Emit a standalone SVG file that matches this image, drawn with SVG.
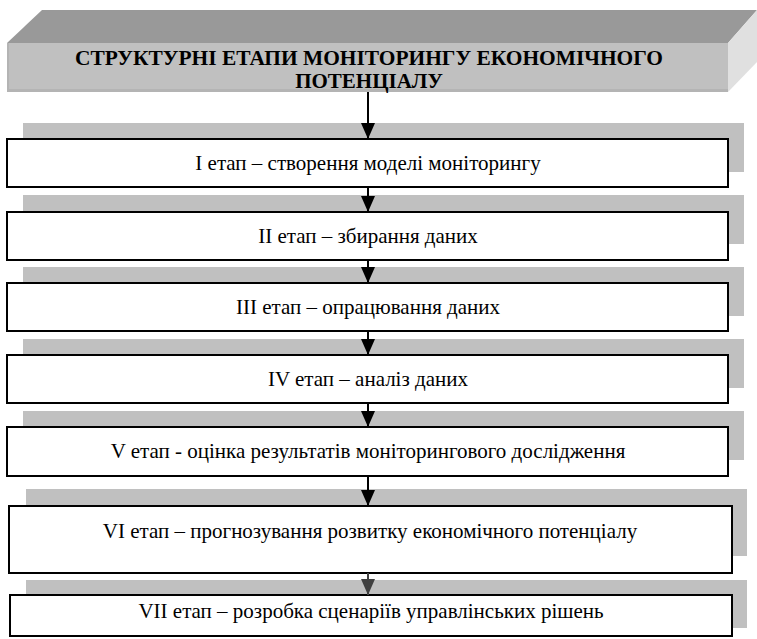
<svg xmlns="http://www.w3.org/2000/svg" width="757" height="639" viewBox="0 0 757 639" font-family="Liberation Serif, serif">
<defs>
<style>
.sh{fill:#c0c0c0;}
.bx{fill:#ffffff;stroke:#000000;stroke-width:2;}
.t{font-size:21px;fill:#000;text-anchor:middle;}
.tt{font-size:21px;font-weight:bold;fill:#000;text-anchor:middle;}
.ln{stroke:#000;stroke-width:2;fill:none;}
</style>
<marker id="ah" markerWidth="16" markerHeight="16" refX="16" refY="8" orient="auto" markerUnits="userSpaceOnUse" viewBox="0 0 16 16">
<path d="M0,1 L16,8 L0,15 Z" fill="#000"/>
</marker>
<marker id="ah2" markerWidth="16" markerHeight="16" refX="16" refY="8" orient="auto" markerUnits="userSpaceOnUse" viewBox="0 0 16 16">
<path d="M0,1 L16,8 L0,15 Z" fill="#404040"/>
</marker>
</defs>
<rect width="757" height="639" fill="#ffffff"/>
<g id="header">
<polygon points="7,43 42,10 757,10 728,43" fill="#999999"/>
<polygon points="728,43 757,10 757,62 728,92" fill="#e0e0e0"/>
<rect x="7" y="43" width="721" height="49" fill="#c0c0c0"/>
<rect x="7" y="89" width="721" height="3" fill="#b4b4b4"/>
<rect x="7" y="43" width="2" height="49" fill="#b4b4b4"/>
<text class="tt" x="369" y="65" font-family="Liberation Serif, serif" textLength="588" lengthAdjust="spacingAndGlyphs">СТРУКТУРНІ ЕТАПИ МОНІТОРИНГУ ЕКОНОМІЧНОГО</text>
<text class="tt" x="369" y="88" font-family="Liberation Serif, serif">ПОТЕНЦІАЛУ</text>
</g>
<g id="stage1" font-family="Liberation Serif, serif">
<rect class="sh" x="23" y="123" width="721" height="49"/>
<rect class="bx" x="7" y="139" width="721" height="48"/>
<text class="t" x="368" y="170">I етап – створення моделі моніторингу</text>
</g>
<g id="stage2" font-family="Liberation Serif, serif">
<rect class="sh" x="23" y="195" width="721" height="49"/>
<rect class="bx" x="7" y="212" width="721" height="48"/>
<text class="t" x="368" y="243">II етап – збирання даних</text>
</g>
<g id="stage3" font-family="Liberation Serif, serif">
<rect class="sh" x="23" y="267" width="721" height="49"/>
<rect class="bx" x="7" y="283" width="721" height="48"/>
<text class="t" x="368" y="314">III етап – опрацювання даних</text>
</g>
<g id="stage4" font-family="Liberation Serif, serif">
<rect class="sh" x="23" y="339" width="721" height="49"/>
<rect class="bx" x="7" y="355" width="721" height="48"/>
<text class="t" x="368" y="386">IV етап – аналіз даних</text>
</g>
<g id="stage5" font-family="Liberation Serif, serif">
<rect class="sh" x="23" y="411" width="721" height="49"/>
<rect class="bx" x="7" y="427" width="721" height="49"/>
<text class="t" x="368" y="458">V етап - оцінка результатів моніторингового дослідження</text>
</g>
<g id="stage6" font-family="Liberation Serif, serif">
<rect class="sh" x="26" y="489" width="721" height="67"/>
<rect class="bx" x="9" y="506" width="723" height="67"/>
<text class="t" x="370" y="538">VI етап – прогнозування розвитку економічного потенціалу</text>
</g>
<g id="stage7" font-family="Liberation Serif, serif">
<rect class="sh" x="26" y="580" width="721" height="48"/>
<rect class="bx" x="10" y="595" width="722" height="41"/>
<text class="t" x="371" y="618">VII етап – розробка сценаріїв управлінських рішень</text>
</g>
<g id="connectors">
<line class="ln" x1="368" y1="92" x2="368" y2="139" marker-end="url(#ah)"/>
<line class="ln" x1="368" y1="187" x2="368" y2="212" marker-end="url(#ah)"/>
<line class="ln" x1="368" y1="260" x2="368" y2="283" marker-end="url(#ah)"/>
<line class="ln" x1="368" y1="331" x2="368" y2="355" marker-end="url(#ah)"/>
<line class="ln" x1="368" y1="403" x2="368" y2="427" marker-end="url(#ah)"/>
<line class="ln" x1="368" y1="476" x2="368" y2="506" marker-end="url(#ah)"/>
<line x1="368" y1="573" x2="368" y2="595" stroke="#404040" stroke-width="2" marker-end="url(#ah2)"/>
</g>
</svg>
